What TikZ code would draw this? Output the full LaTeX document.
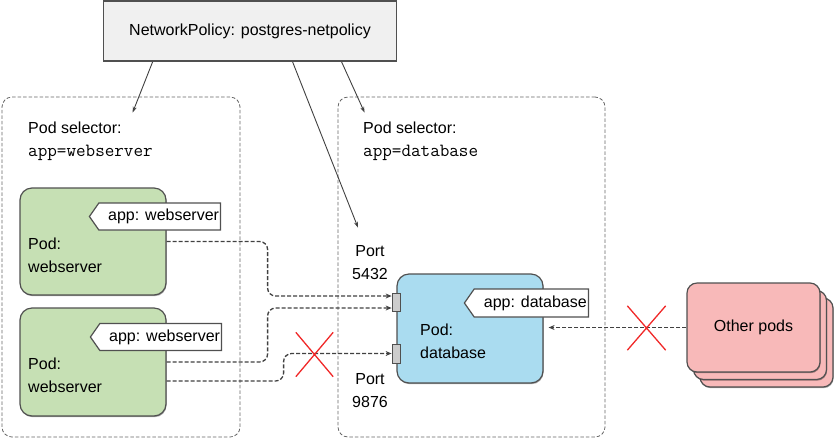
\documentclass[tikz,border=0pt]{standalone}
\usepackage{fontspec}
\setmainfont{Liberation Sans}
\usetikzlibrary{arrows.meta,calc,shapes.symbols,shapes.misc,shadows}
\definecolor{podgreen}{RGB}{198,224,180}
\definecolor{podblue}{RGB}{170,220,240}
\definecolor{podpink}{RGB}{248,185,185}
\definecolor{edgegray}{RGB}{80,80,80}
\definecolor{conngray}{RGB}{65,65,65}
\definecolor{npfill}{RGB}{240,240,240}
\definecolor{xred}{RGB}{240,40,40}
\newcommand{\mytt}[1]{{\fontsize{18.6}{23}\selectfont\ttfamily #1}}
\begin{document}
\begin{tikzpicture}[x=1pt,y=-1pt,
  base/.style={font=\fontsize{16}{23}\selectfont, inner sep=0pt},
  selbox/.style={draw=gray!80!black, dash pattern=on 3.5pt off 2pt, line width=0.8pt, rounded corners=10pt, inner sep=0pt},
  podbox/.style={draw=edgegray, line width=1.2pt, rounded corners=12pt, inner sep=0pt,
     drop shadow={shadow xshift=0.6pt, shadow yshift=-1.2pt, opacity=0.35, fill=black}},
  tagbox/.style={signal, signal to=west, signal from=nowhere, signal pointer angle=110,
     draw=edgegray, fill=white, line width=1.2pt, minimum height=27pt, inner sep=0pt,
     font=\fontsize{16}{20}\selectfont},
  portbox/.style={draw=edgegray, fill=gray!40, line width=0.8pt, minimum width=8pt, minimum height=18pt, inner sep=0pt},
  conn/.style={draw=conngray, line width=1.3pt, dash pattern=on 4pt off 2pt, -{Stealth[length=6pt,width=5pt]}},
  ptr/.style={draw=conngray, line width=0.9pt, -{Stealth[length=6pt,width=4pt]}},
  nope/.style={cross out, draw=xred, line width=1.3pt, inner sep=0pt, minimum height=43pt}
]
\useasboundingbox (0,0) rectangle (834,440);

% selector boxes
\node[selbox, minimum width=238pt, minimum height=340pt] (selL) at (121,267) {};
\node[selbox, minimum width=267pt, minimum height=340pt] (selR) at (471.5,267) {};

% network policy
\node[draw=edgegray, fill=npfill, line width=1.8pt, minimum width=293pt, minimum height=60pt,
      inner sep=0pt, font=\fontsize{16}{20}\selectfont] (np) at (250,31) {NetworkPolicy: postgres-netpolicy};

% selector texts
\node[base, anchor=west, align=left] (selLt) at (28,141) {Pod selector:\\\mytt{app=webserver}};
\node[base, anchor=west, align=left] (selRt) at (363,141) {Pod selector:\\\mytt{app=database}};

% pods
\node[podbox, fill=podgreen, minimum width=146pt, minimum height=107pt] (pod1) at (93,241.5) {};
\node[podbox, fill=podgreen, minimum width=146pt, minimum height=108pt] (pod2) at (93,362) {};
\node[podbox, fill=podblue, minimum width=146pt, minimum height=109pt] (db) at (470,328.5) {};

\node[tagbox, minimum width=131pt, anchor=east] (tag1) at (221,216.5) {\hspace*{8pt}app: webserver};
\node[tagbox, minimum width=131pt, anchor=east] (tag2) at (222,337) {\hspace*{8pt}app: webserver};
\node[tagbox, minimum width=124pt, anchor=east, minimum height=28pt] (tag3) at (589,303) {\hspace*{8pt}app: database};

\node[base, anchor=west, align=left] (pod1t) at (28,255.5) {Pod:\\webserver};
\node[base, anchor=west, align=left] (pod2t) at (28,375) {Pod:\\webserver};
\node[base, anchor=west, align=left] (dbt) at (420,341.5) {Pod:\\database};

% ports
\node[portbox] (port1) at (396,302.5) {};
\node[portbox, minimum height=19pt] (port2) at (396,353.5) {};
\node[base, align=center] (p5432) at (370,263) {Port\\5432};
\node[base, align=center] (p9876) at (370,391) {Port\\9876};

% other pods stack
\node[podbox, fill=podpink, rounded corners=10pt, minimum width=133pt, minimum height=89pt] (other3) at (766.5,342.5) {};
\node[podbox, fill=podpink, rounded corners=10pt, minimum width=133pt, minimum height=89pt] (other2) at (760,335) {};
\node[podbox, fill=podpink, rounded corners=10pt, minimum width=133pt, minimum height=89pt,
      font=\fontsize{16}{20}\selectfont] (other) at (753.5,327.5) {Other pods};

% policy pointers
\draw[ptr] ($(np.south west)+(50,0)$) -- ($(selL.north west)+(131,16)$);
\draw[ptr] ($(np.south west)+(239,0)$) -- ($(selR.north west)+(27,16)$);
\coordinate (porttip) at ($(port1.north)+(-38,-65.5)$);
\draw[ptr] ($(np.south west)+(190,0)$) -- (porttip);

% connections
\draw[conn, rounded corners=8pt] (pod1.east) -| ($(port1.west)+(-124,-6.5)$) -- ($(port1.west)+(0,-6.5)$);
\draw[conn, rounded corners=8pt] (pod2.east) -| ($(port1.west)+(-124,5.5)$) -- ($(port1.west)+(0,5.5)$);
\draw[conn, rounded corners=8pt] ($(pod2.east)+(0,19)$) -| ($(port2.west)+(-108,0)$) -- (port2.west);
\draw[conn, shorten >=5pt] (other.west) -- (other.west -| db.east);

% blocked marks
\node[nope, minimum width=36pt] (x1) at (314.5,354.5) {};
\node[nope, minimum width=37pt] (x2) at (646.5,328) {};
\end{tikzpicture}
\end{document}
